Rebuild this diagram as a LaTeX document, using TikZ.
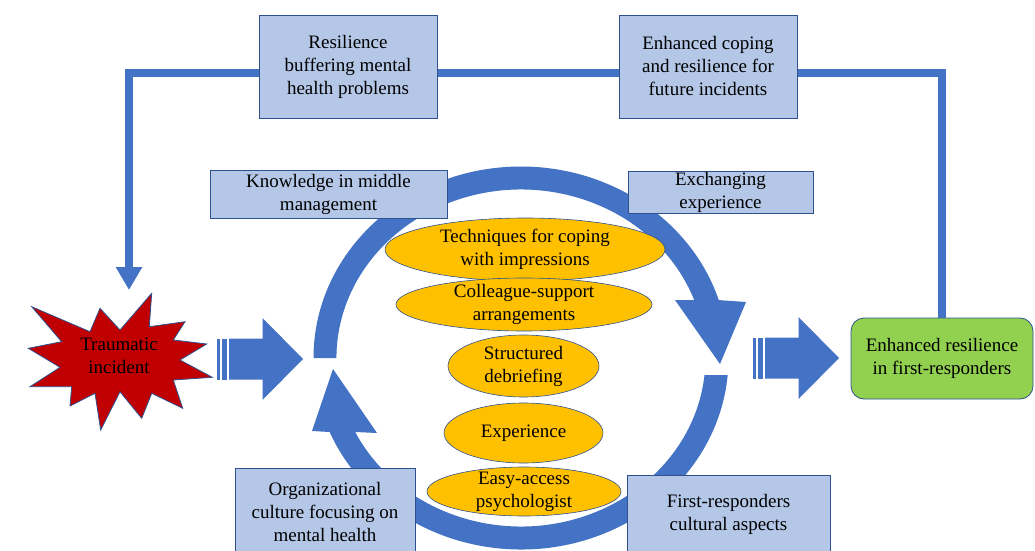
\documentclass[tikz,border=0pt]{standalone}
\usepackage{fontspec}
\setmainfont{LiberationSerif}[Extension=.ttf, UprightFont=*-Regular, BoldFont=*-Bold]
\usetikzlibrary{shapes.geometric,arrows.meta}

\definecolor{ringblue}{HTML}{4472C4}
\definecolor{boxblue}{HTML}{B4C7E7}
\definecolor{edgeblue}{HTML}{2F528F}
\definecolor{factoryellow}{HTML}{FFC000}
\definecolor{burstred}{HTML}{C00000}
\definecolor{leafgreen}{HTML}{92D050}

\tikzset{
  txt/.style={font=\rmfamily\fontsize{19}{23}\selectfont, align=center},
  infobox/.style={txt, rectangle, fill=boxblue, draw=edgeblue, line width=0.8pt, inner sep=0pt},
  factor/.style={txt, ellipse, fill=factoryellow, draw=edgeblue, line width=0.6pt, inner xsep=0pt, inner ysep=-3pt},
  goal/.style={txt, rectangle, rounded corners=13pt, fill=leafgreen, draw=edgeblue, line width=0.8pt},
  burst/.style={fill=burstred, draw=edgeblue, line width=0.8pt},
  feedback/.style={draw=ringblue, line width=8pt},
  ring/.style={fill=ringblue},
  outer rim/.style={x radius=207.5pt, y radius=191.5pt},
  inner rim/.style={x radius=184.5pt, y radius=168.5pt},
  striped arrow/.pic={
    \fill[ringblue] (0,-20.5) rectangle (3,20.5);
    \fill[ringblue] (5,-20.5) rectangle (10.5,20.5);
    \fill[ringblue] (12.5,-20.5) -- (46,-20.5) -- (46,-41) -- (86.5,0)
      -- (46,41) -- (46,20.5) -- (12.5,20.5) -- cycle;
  }
}

\begin{document}
\begin{tikzpicture}[x=1pt,y=1pt]
  \useasboundingbox (0,0) rectangle (1035,550);

  % RING
  % upper half, arrow pointing down on the right
  \fill[ring] (313.5,192) arc[outer rim, start angle=180, end angle=17.6]
    -- (746,248) -- (720,186) -- (675,250)
    -- (694.2,249.9) arc[inner rim, start angle=20.1, end angle=180] -- cycle;
  % lower half, arrow pointing up on the left
  \fill[ring] (727.7,175) arc[outer rim, start angle=-5.09, end angle=-157.27]
    -- (312,119) -- (333,181) -- (377,117)
    -- (355.2,118) arc[inner rim, start angle=-153.95, end angle=-5.79] -- cycle;

  % INCIDENT
  \draw[burst] (31.7,243.3) -- (90,218.3) -- (100,241.7) -- (120,220)
    -- (151.7,256.7) -- (149.3,223.3) -- (185,228.3) -- (173.3,210)
    -- (206.7,206) -- (180,190) -- (212.3,172.7) -- (173.3,170)
    -- (182.7,141.7) -- (151.7,156.7) -- (141.7,131.7) -- (120,158.3)
    -- (100.7,120) -- (95,156.7) -- (70,144) -- (71.7,163.3)
    -- (30,163.3) -- (60,182.7) -- (28.3,201.7) -- (61.7,208.3) -- cycle;
  \node[txt] (trauma) at (119,194) {Traumatic\\incident};

  % BLOCK ARROWS
  \pic at (216.5,191) {striped arrow};
  \pic at (752.5,192) {striped arrow};

  % OUTCOME
  \node[goal, minimum width=182pt, minimum height=81pt] (enh) at (942,191.5)
    {Enhanced resilience\\in first-responders};

  % FEEDBACK LOOP
  \coordinate (fbcorner) at (129,477);
  \coordinate (fbtip) at (129,260);
  \draw[feedback, -{Triangle[width=25pt,length=23pt]}]
    (enh.north) |- (fbcorner) -- (fbtip);

  \node[infobox, minimum width=178pt, minimum height=103pt] (res) at (348,483.5)
    {Resilience\\buffering mental\\health problems};
  \node[infobox, minimum width=178pt, minimum height=103pt] (cope) at (708,483.5)
    {Enhanced coping\\and resilience for\\future incidents};

  % CONTEXT BOXES
  \node[infobox, minimum width=237pt, minimum height=48pt] (know) at (328.5,356)
    {Knowledge in middle\\management};
  \node[infobox, minimum width=185pt, minimum height=42pt] (exch) at (720.5,358)
    {Exchanging\\experience};
  \node[infobox, minimum width=180pt, minimum height=88pt] (org) at (325,38)
    {Organizational\\culture focusing on\\mental health};
  \node[infobox, minimum width=203pt, minimum height=78pt] (cult) at (728.5,36)
    {First-responders\\cultural aspects};

  % FACTORS
  \node[factor, minimum width=280pt, minimum height=63pt] (tech) at (525,300.5)
    {Techniques for coping\\with impressions};
  \node[factor, minimum width=256pt, minimum height=53pt] (coll) at (524,245.5)
    {Colleague-support\\arrangements};
  \node[factor, minimum width=151pt, minimum height=62pt] (debr) at (523.5,184)
    {Structured\\debriefing};
  \node[factor, minimum width=159pt, minimum height=60pt] (expe) at (523.5,117)
    {Experience};
  \node[factor, minimum width=194pt, minimum height=49pt] (easy) at (524,58.5)
    {Easy-access\\psychologist};
\end{tikzpicture}
\end{document}
